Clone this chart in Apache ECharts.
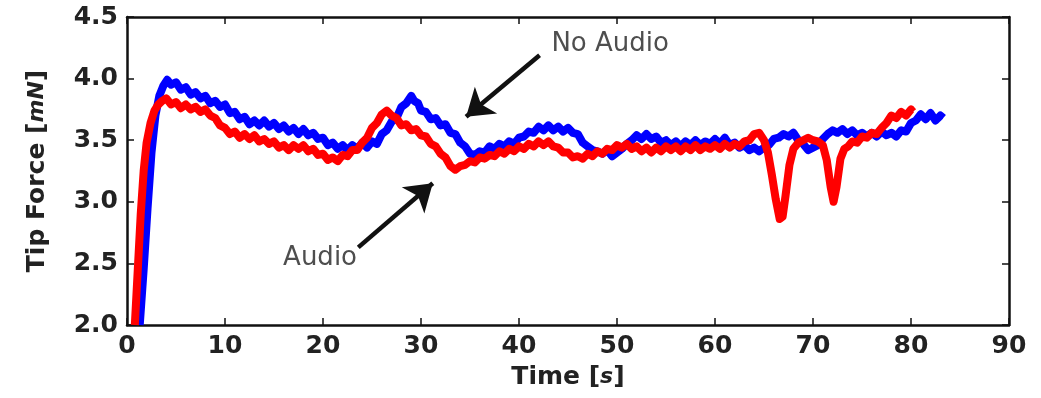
<!DOCTYPE html>
<html>
<head>
<meta charset="utf-8">
<script src="https://cdn.jsdelivr.net/npm/echarts@6/dist/echarts.min.js"></script>
<style>
  html, body { margin: 0; padding: 0; background: #fff; }
  #chart { width: 1041px; height: 398px; }
</style>
</head>
<body>
<div id="chart"></div>
<script>
// Tip force traces, [time s, force mN]
const noAudio = [
  [1.3,2.00],[1.7,2.45],[2.1,2.95],[2.5,3.40],[2.9,3.70],[3.3,3.86],[3.7,3.94],[4.1,3.99],[4.5,3.95],[5.0,3.97],
  [5.5,3.91],[6.0,3.93],[6.5,3.87],[7.0,3.89],[7.5,3.84],[8.0,3.86],[8.5,3.80],[9.0,3.82],[9.5,3.77],[10.0,3.79],
  [10.5,3.72],[11.0,3.73],[11.5,3.67],[12.0,3.69],[12.5,3.63],[13.0,3.66],[13.5,3.62],[14.0,3.66],[14.5,3.61],[15.0,3.64],
  [15.5,3.59],[16.0,3.62],[16.5,3.57],[17.0,3.60],[17.5,3.55],[18.0,3.59],[18.5,3.54],[19.0,3.56],[19.5,3.51],[20.0,3.52],
  [20.5,3.46],[21.0,3.48],[21.5,3.43],[22.0,3.46],[22.5,3.42],[23.0,3.46],[23.5,3.43],[24.0,3.48],[24.5,3.44],[25.0,3.49],
  [25.5,3.47],[26.0,3.55],[26.5,3.58],[27.0,3.65],[27.5,3.68],[28.0,3.77],[28.5,3.80],[29.0,3.86],[29.3,3.82],[29.7,3.80],
  [30.0,3.74],[30.5,3.73],[31.0,3.67],[31.5,3.68],[32.0,3.62],[32.5,3.63],[33.0,3.56],[33.5,3.55],[34.0,3.48],[34.5,3.45],
  [35.0,3.39],[35.5,3.38],[36.0,3.41],[36.5,3.40],[37.0,3.45],[37.5,3.43],[38.0,3.47],[38.5,3.45],[39.0,3.49],[39.5,3.47],
  [40.0,3.52],[40.5,3.53],[41.0,3.57],[41.5,3.56],[42.0,3.61],[42.5,3.58],[43.0,3.62],[43.5,3.58],[44.0,3.61],[44.5,3.57],
  [45.0,3.60],[45.5,3.56],[46.0,3.55],[46.5,3.48],[47.0,3.45],[47.5,3.42],[48.0,3.41],[48.5,3.39],[49.0,3.42],[49.5,3.37],
  [50.0,3.40],[50.5,3.43],[51.0,3.47],[51.5,3.50],[52.0,3.54],[52.5,3.51],[53.0,3.55],[53.5,3.51],[54.0,3.53],[54.5,3.48],
  [55.0,3.50],[55.5,3.46],[56.0,3.49],[56.5,3.45],[57.0,3.49],[57.5,3.46],[58.0,3.50],[58.5,3.46],[59.0,3.49],[59.5,3.47],
  [60.0,3.51],[60.5,3.47],[61.0,3.52],[61.5,3.46],[62.0,3.48],[62.5,3.44],[63.0,3.46],[63.5,3.42],[64.0,3.44],[64.5,3.41],
  [65.0,3.44],[65.5,3.46],[66.0,3.51],[66.5,3.52],[67.0,3.55],[67.5,3.53],[68.0,3.56],[68.5,3.50],[69.0,3.47],[69.5,3.42],
  [70.0,3.44],[70.5,3.46],[71.0,3.51],[71.5,3.55],[72.0,3.58],[72.5,3.56],[73.0,3.59],[73.5,3.55],[74.0,3.58],[74.5,3.54],
  [75.0,3.56],[75.5,3.53],[76.0,3.56],[76.5,3.53],[77.0,3.57],[77.5,3.54],[78.0,3.56],[78.5,3.53],[79.0,3.58],[79.5,3.57],
  [80.0,3.64],[80.5,3.66],[81.0,3.71],[81.5,3.67],[82.0,3.72],[82.5,3.66],[83.0,3.70],[83.3,3.68]
];

const withAudio = [
  [0.8,2.00],[1.1,2.45],[1.4,2.90],[1.7,3.25],[2.0,3.48],[2.4,3.64],[2.8,3.74],[3.2,3.79],[3.6,3.82],[4.0,3.84],
  [4.5,3.79],[5.0,3.81],[5.5,3.76],[6.0,3.79],[6.5,3.75],[7.0,3.77],[7.5,3.73],[8.0,3.75],[8.5,3.70],[9.0,3.68],
  [9.5,3.62],[10.0,3.60],[10.5,3.55],[11.0,3.57],[11.5,3.52],[12.0,3.55],[12.5,3.51],[13.0,3.54],[13.5,3.49],[14.0,3.51],
  [14.5,3.47],[15.0,3.49],[15.5,3.44],[16.0,3.46],[16.5,3.42],[17.0,3.46],[17.5,3.43],[18.0,3.46],[18.5,3.41],[19.0,3.43],
  [19.5,3.38],[20.0,3.39],[20.5,3.34],[21.0,3.36],[21.5,3.33],[22.0,3.38],[22.5,3.37],[23.0,3.42],[23.5,3.42],[24.0,3.48],
  [24.5,3.52],[25.0,3.60],[25.5,3.64],[26.0,3.71],[26.5,3.74],[27.0,3.70],[27.5,3.68],[28.0,3.62],[28.5,3.63],[29.0,3.58],
  [29.5,3.59],[30.0,3.54],[30.5,3.53],[31.0,3.47],[31.5,3.45],[32.0,3.39],[32.5,3.36],[33.0,3.29],[33.5,3.26],[34.0,3.29],
  [34.5,3.30],[35.0,3.33],[35.5,3.32],[36.0,3.36],[36.5,3.35],[37.0,3.38],[37.5,3.37],[38.0,3.41],[38.5,3.39],[39.0,3.43],
  [39.5,3.41],[40.0,3.45],[40.5,3.43],[41.0,3.47],[41.5,3.45],[42.0,3.49],[42.5,3.46],[43.0,3.49],[43.5,3.45],[44.0,3.44],
  [44.5,3.40],[45.0,3.40],[45.5,3.36],[46.0,3.37],[46.5,3.35],[47.0,3.39],[47.5,3.37],[48.0,3.41],[48.5,3.39],[49.0,3.43],
  [49.5,3.42],[50.0,3.46],[50.5,3.44],[51.0,3.47],[51.5,3.43],[52.0,3.45],[52.5,3.41],[53.0,3.44],[53.5,3.40],[54.0,3.44],
  [54.5,3.41],[55.0,3.45],[55.5,3.42],[56.0,3.45],[56.5,3.41],[57.0,3.45],[57.5,3.42],[58.0,3.46],[58.5,3.42],[59.0,3.45],
  [59.5,3.43],[60.0,3.46],[60.5,3.43],[61.0,3.47],[61.5,3.44],[62.0,3.47],[62.5,3.45],[63.0,3.49],[63.5,3.50],[64.0,3.55],
  [64.5,3.56],[65.0,3.50],[65.4,3.40],[65.8,3.22],[66.2,3.02],[66.6,2.86],[66.9,2.88],[67.2,3.05],[67.6,3.30],[68.0,3.43],
  [68.5,3.48],[69.0,3.50],[69.5,3.52],[70.0,3.50],[70.5,3.49],[71.0,3.46],[71.4,3.34],[71.8,3.12],[72.1,3.00],[72.4,3.12],
  [72.8,3.35],[73.2,3.43],[73.6,3.45],[74.0,3.49],[74.5,3.48],[75.0,3.53],[75.5,3.52],[76.0,3.56],[76.5,3.55],[77.0,3.60],
  [77.5,3.64],[78.0,3.70],[78.5,3.68],[79.0,3.73],[79.5,3.70],[80.0,3.75],[80.2,3.73]
];

// Axis ranges and ticks
const xTicks = { min: 0, max: 90, step: 10 };
const yTicks = { min: 2.0, max: 4.5, step: 0.5 };

// Callouts: text anchor and arrow [tail, head] in data coordinates
const calloutText = [
  { name: 'No Audio', at: [49.3, 4.28] },
  { name: 'Audio', at: [19.7, 2.54] }
];
const calloutArrows = [
  [[42.1, 4.19], [34.6, 3.69]],
  [[23.6, 2.63], [31.2, 3.15]]
];

const FONT = 'DejaVu Sans';
const ink = '#111';

const tickStyle = { show: true, inside: true, length: 7, lineStyle: { color: ink, width: 1.5 } };
const frameLine = { show: true, onZero: false, lineStyle: { color: ink, width: 2.5 } };

const chart = echarts.init(document.getElementById('chart'), null, { renderer: 'canvas' });

chart.setOption({
  animation: false,
  backgroundColor: '#fff',
  grid: { left: 127, right: 32, top: 17, bottom: 73, containLabel: false },
  xAxis: [
    {
      type: 'value', position: 'bottom',
      min: xTicks.min, max: xTicks.max, interval: xTicks.step,
      axisLine: frameLine, axisTick: tickStyle, splitLine: { show: false },
      axisLabel: { color: '#222', fontFamily: FONT, fontWeight: 'bold', fontSize: 25, margin: 9 },
      name: '{n|Time [}{i|s}{n|]}', nameLocation: 'middle', nameGap: 40,
      nameTextStyle: {
        rich: {
          n: { fontFamily: FONT, fontWeight: 'bold', fontSize: 25, color: '#222' },
          i: { fontFamily: FONT, fontWeight: 'bold', fontStyle: 'italic', fontSize: 22, color: '#222' }
        }
      }
    },
    {
      type: 'value', position: 'top',
      min: xTicks.min, max: xTicks.max, interval: xTicks.step,
      axisLine: frameLine, axisTick: tickStyle, splitLine: { show: false },
      axisLabel: { show: false }
    }
  ],
  yAxis: [
    {
      type: 'value', position: 'left',
      min: yTicks.min, max: yTicks.max, interval: yTicks.step,
      axisLine: frameLine, axisTick: tickStyle, splitLine: { show: false },
      axisLabel: {
        color: '#222', fontFamily: FONT, fontWeight: 'bold', fontSize: 25, margin: 9,
        formatter: v => v.toFixed(1)
      },
      name: '{n|Tip Force [}{i|mN}{n|]}', nameLocation: 'middle', nameGap: 77, nameRotate: 90,
      nameTextStyle: {
        rich: {
          n: { fontFamily: FONT, fontWeight: 'bold', fontSize: 25, color: '#222' },
          i: { fontFamily: FONT, fontWeight: 'bold', fontStyle: 'italic', fontSize: 22, color: '#222' }
        }
      }
    },
    {
      type: 'value', position: 'right',
      min: yTicks.min, max: yTicks.max, interval: yTicks.step,
      axisLine: frameLine, axisTick: tickStyle, splitLine: { show: false },
      axisLabel: { show: false }
    }
  ],
  series: [
    {
      name: 'No Audio', type: 'line', data: noAudio,
      xAxisIndex: 0, yAxisIndex: 0,
      showSymbol: false, symbol: 'none', clip: true,
      lineStyle: { color: '#0000ff', width: 8, join: 'round' },
      z: 2
    },
    {
      name: 'Audio', type: 'line', data: withAudio,
      xAxisIndex: 0, yAxisIndex: 0,
      showSymbol: false, symbol: 'none', clip: true,
      lineStyle: { color: '#ff0000', width: 8, join: 'round' },
      z: 3,
      markLine: {
        silent: true,
        symbol: ['none', 'arrow'],
        symbolSize: 26,
        label: { show: false },
        lineStyle: { color: ink, width: 4.5, type: 'solid' },
        data: calloutArrows.map(([a, b]) => [{ coord: a }, { coord: b }]),
        z: 10
      }
    },
    {
      type: 'scatter',
      data: calloutText.map(c => ({ value: c.at, name: c.name })),
      symbolSize: 2,
      itemStyle: { color: 'rgba(255,255,255,0)' },
      silent: true,
      label: {
        show: true, position: 'inside', formatter: p => p.name,
        fontFamily: FONT, fontSize: 26, color: '#222'
      },
      labelLayout: { hideOverlap: false },
      z: 10
    }
  ]
});
</script>
</body>
</html>
